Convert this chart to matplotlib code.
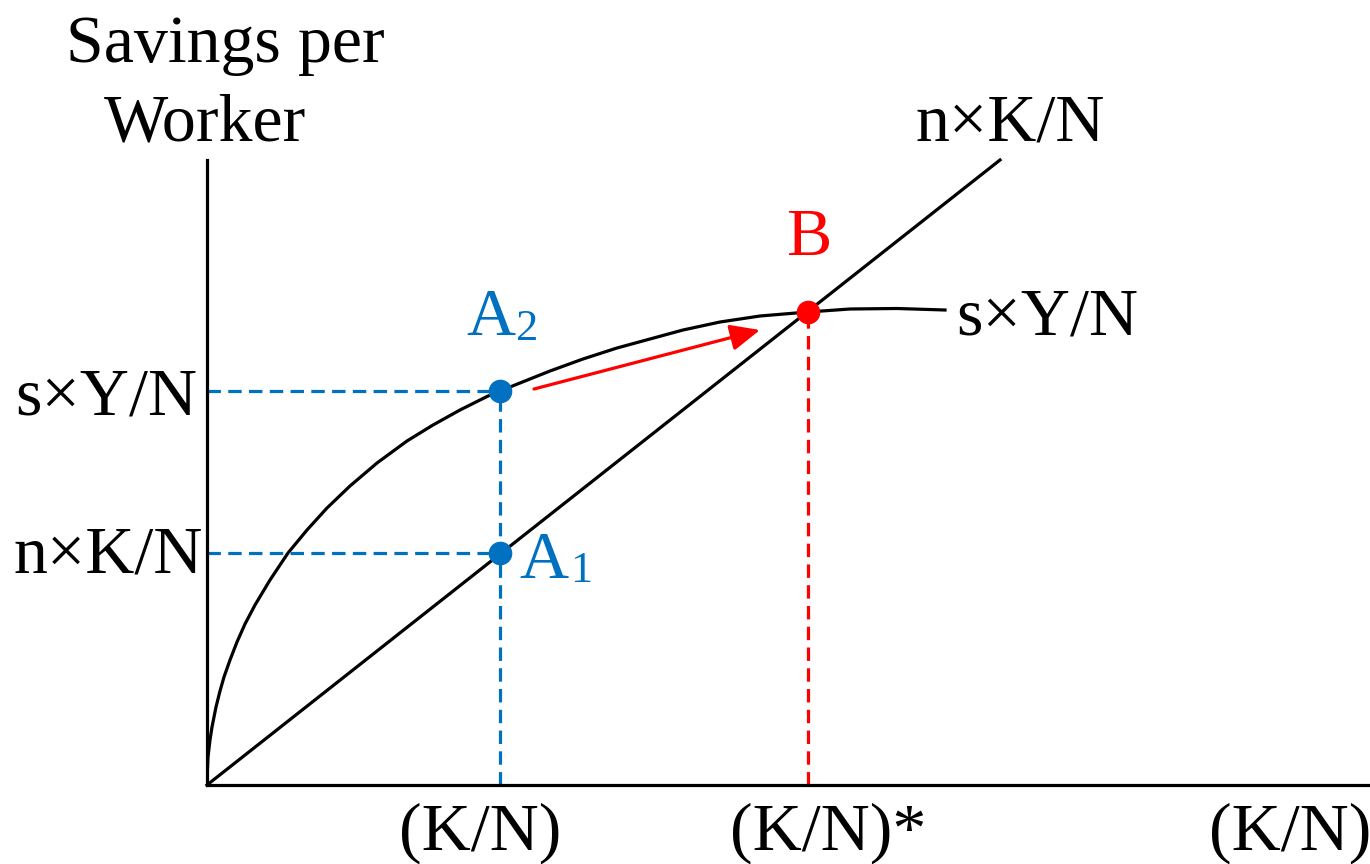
import matplotlib
matplotlib.use("Agg")
import matplotlib.pyplot as plt

W, H = 1370, 864
BLUE = "#0070C0"
RED = "#FF0000"
FONT = "Liberation Serif"
FS = 49

# s x Y/N curve (capital per worker, savings per worker)
curve_k = [0.00, 0.003, 0.01, 0.03, 0.05, 0.09, 0.13, 0.17, 0.23, 0.30,
           0.38, 0.48, 0.57, 0.63, 0.81, 1.00, 1.20, 1.43, 1.70, 2.00,
           2.26, 2.53, 2.80, 2.93, 3.13, 3.43, 3.76, 4.10, 4.43, 4.76,
           5.13, 5.53, 6.01, 6.43, 6.90, 7.38]
curve_s = [0.00, 0.12, 0.28, 0.45, 0.58, 0.78, 0.94, 1.08, 1.25, 1.43,
           1.61, 1.80, 1.95, 2.05, 2.32, 2.55, 2.77, 2.99, 3.22, 3.44,
           3.60, 3.75, 3.885, 3.94, 4.02, 4.14, 4.26, 4.37, 4.46, 4.55,
           4.63, 4.69, 4.73, 4.76, 4.765, 4.75]

# n x K/N line
line_k = [0.0, 7.93]
line_n = [0.0, 6.25]

# points
a_k = 2.93
a1_y = 2.32
a2_y = 3.94
b_k = 6.01
b_y = 4.73

# arrow from A2 towards B
arrow_from = (3.27, 3.96)
arrow_to = (5.53, 4.55)

fig = plt.figure(figsize=(W / 100, H / 100), dpi=100)
ax = fig.add_axes([207 / W, 79 / H, (W - 207) / W, 625 / H])
ax.set_xlim(0, 11.63)
ax.set_ylim(0, 6.25)
for side in ["top", "right"]:
    ax.spines[side].set_visible(False)
for side in ["left", "bottom"]:
    ax.spines[side].set_linewidth(2.3)
ax.set_xticks([])
ax.set_yticks([])

ax.plot(curve_k, curve_s, color="black", lw=2.3, solid_joinstyle="round")
ax.plot(line_k, line_n, color="black", lw=2.3, clip_on=False)

dash = dict(lw=2.3, dashes=[4.2, 2.3])
ax.plot([0, a_k], [a2_y, a2_y], color=BLUE, **dash)
ax.plot([0, a_k], [a1_y, a1_y], color=BLUE, **dash)
ax.plot([a_k, a_k], [0, a2_y], color=BLUE, **dash)
ax.plot([b_k, b_k], [0, b_y], color=RED, **dash)

ax.plot([a_k, a_k], [a1_y, a2_y], "o", color=BLUE, ms=16, zorder=5)
ax.plot([b_k], [b_y], "o", color=RED, ms=16, zorder=5)

ax.annotate("", xy=arrow_to, xytext=arrow_from,
            arrowprops=dict(arrowstyle="-|>,head_length=1.8,head_width=0.8",
                            color=RED, lw=2.3, shrinkA=0, shrinkB=0))


def label(px, py, s, color="black", size=FS, ha="left"):
    fig.text(px / W, 1 - py / H, s, color=color, fontsize=size, ha=ha,
             va="baseline", family=FONT)


label(225, 62, "Savings per", ha="center")
label(205, 140, "Worker", ha="center")
label(1010, 140, "n×K/N", ha="center")
label(1047, 335, "s×Y/N", ha="center")
label(106, 415, "s×Y/N", ha="center")
label(108, 573, "n×K/N", ha="center")
label(809, 255, "B", color=RED, ha="center")
label(466, 335, "A", color=BLUE)
label(516, 340, "2", color=BLUE, size=32)
label(519, 578, "A", color=BLUE)
label(570, 582, "1", color=BLUE, size=32)
label(480, 850, "(K/N)", ha="center")
label(828, 850, "(K/N)*", ha="center")
label(1290, 850, "(K/N)", ha="center")

fig.savefig("out.png", dpi=100)
